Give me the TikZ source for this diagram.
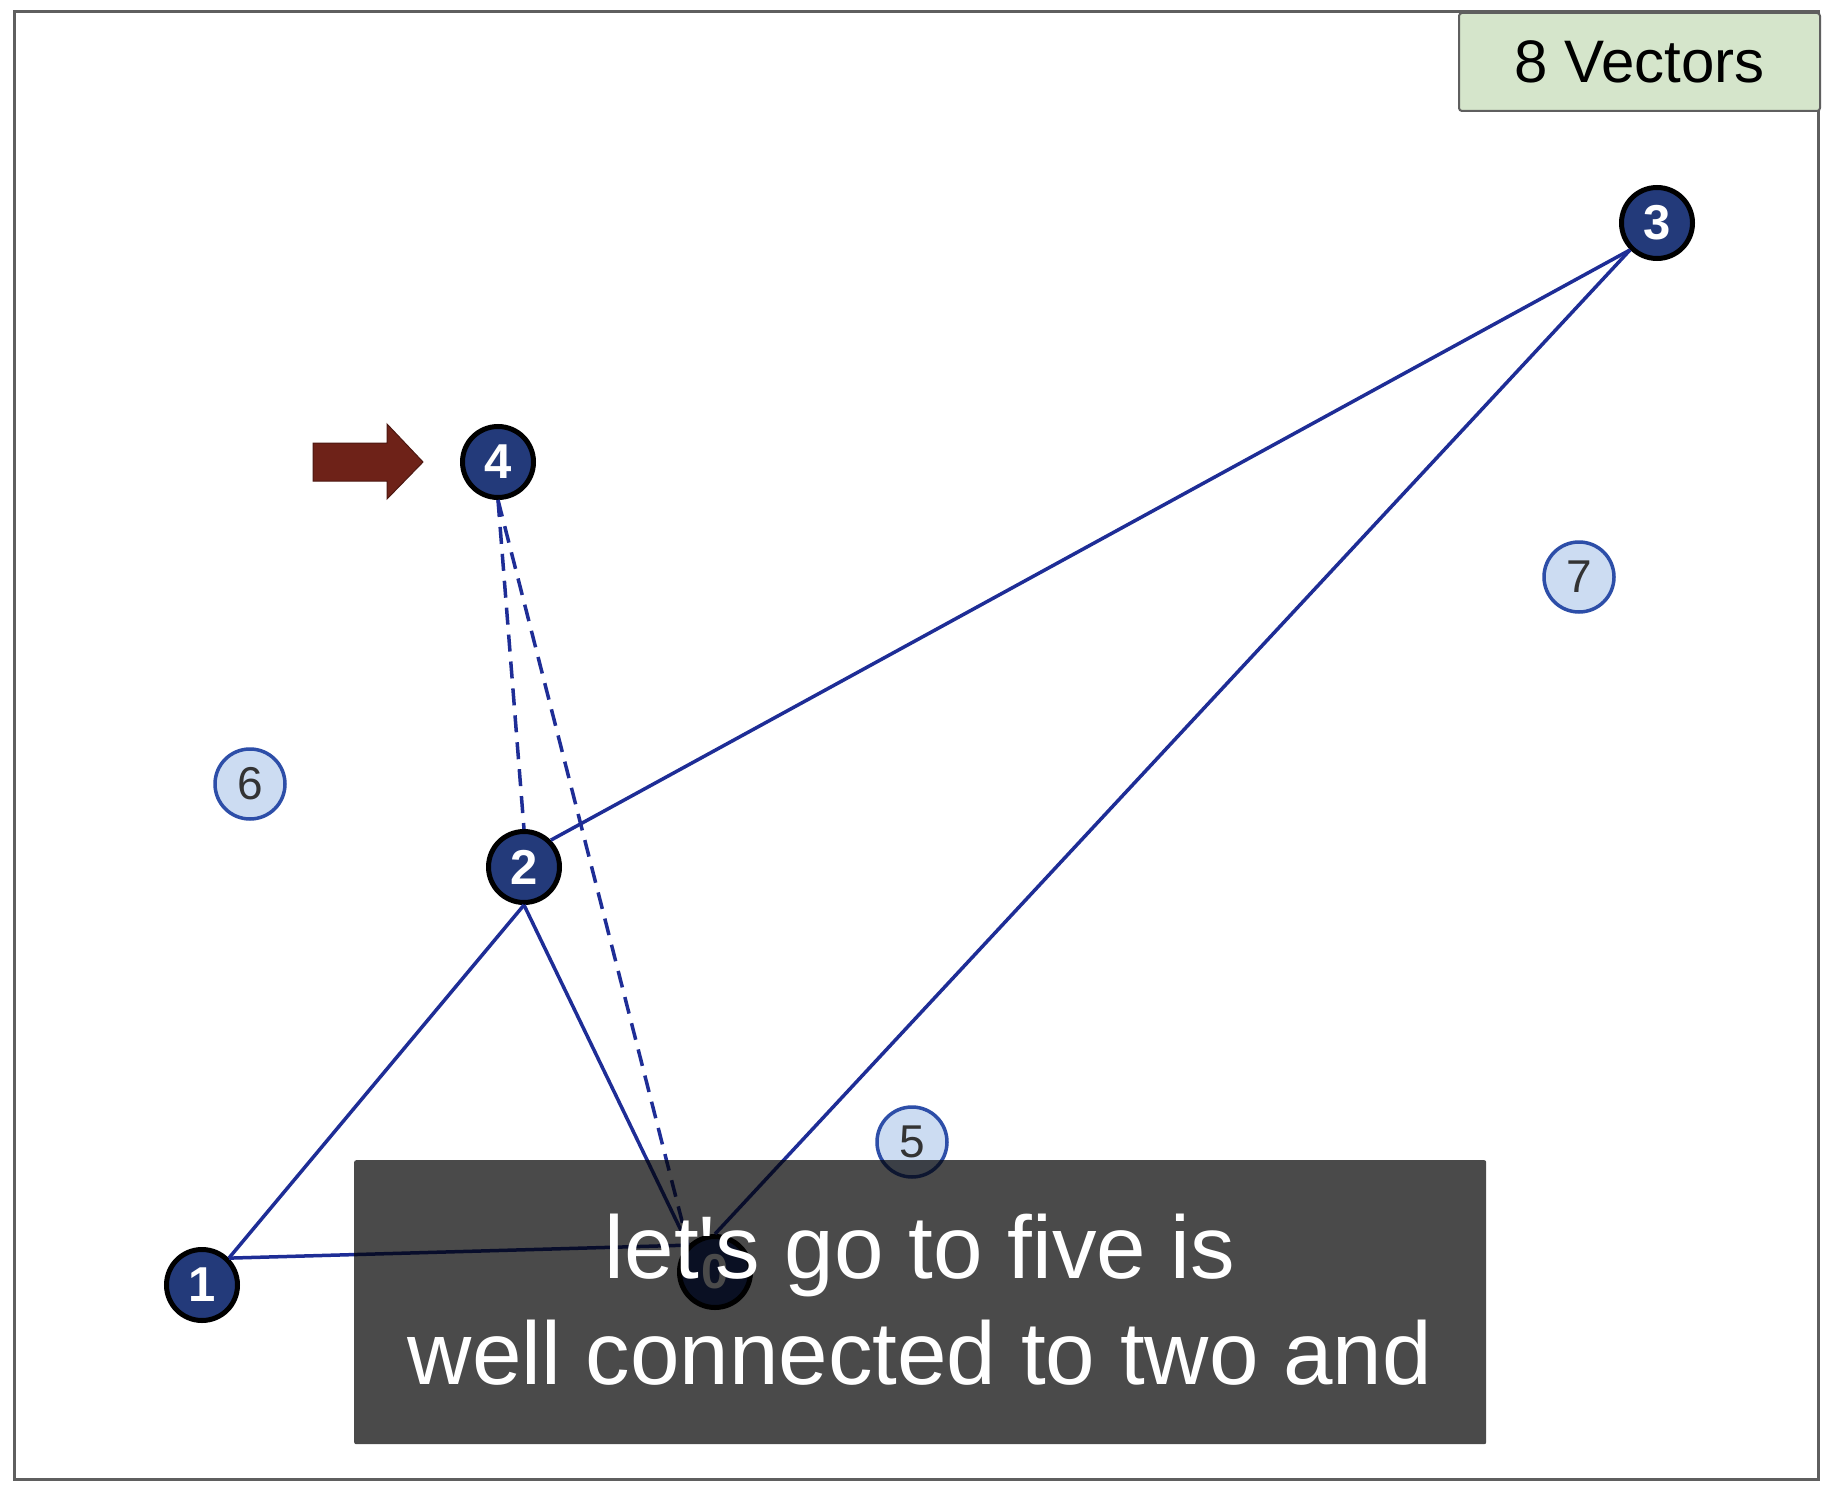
\documentclass[tikz,border=0pt]{standalone}
\usepackage{fontspec}
\usepackage{xcolor}
\setmainfont{Liberation Sans}
\usetikzlibrary{shapes}

\definecolor{vecfill}{RGB}{35,58,122}
\definecolor{linkblue}{RGB}{30,45,150}
\definecolor{freefill}{RGB}{204,220,242}
\definecolor{freeedge}{RGB}{45,78,168}
\definecolor{countfill}{RGB}{213,229,203}
\definecolor{framegray}{RGB}{95,95,95}
\definecolor{pointred}{RGB}{110,34,24}

\begin{document}
\begin{tikzpicture}[x=1pt, y=-1pt,
    vec/.style={draw=black, line width=5pt, circle, fill=vecfill, text=white, minimum size=71pt, inner sep=0pt, font=\fontsize{49}{49}\selectfont\bfseries},
    free/.style={draw=freeedge, line width=3.5pt, circle, fill=freefill, text=black!80, minimum size=70pt, inner sep=0pt, font=\fontsize{46}{46}\selectfont},
    link/.style={draw=linkblue, line width=3.5pt},
    caption/.style={text=white, anchor=base, font=\fontsize{89}{106}\selectfont}
    ]
            \useasboundingbox (0,0) rectangle (1832,1490);
            \fill[white] (0,0) rectangle (1832,1490);
            \draw[framegray, line width=3pt] (14,12) rectangle (1818,1479);
            
            \node[vec] (v0) at (715,1272) {0};
            \node[vec] (v1) at (202,1285) {1};
            \node[vec] (v2) at (524,867) {2};
            \node[vec] (v3) at (1657,223) {3};
            \node[vec] (v4) at (498,462) {4};
            
            \node[free] (v5) at (912,1142) {5};
            \node[free] (v6) at (250,784) {6};
            \node[free] (v7) at (1579,577) {7};
            
            \draw[link] (v1.north east)--(v2.south);
            \draw[link] (v1.north east)--(v0.north west);
            \draw[link] (v2.south)--(v0.north west);
            \draw[link] (v2.north east)--(v3.south west);
            \draw[link] (v3.south west)--(v0.north);
            
            \draw[link, dash pattern=on 17pt off 10pt] (v4.south)--(v2.north);
            \draw[link, dash pattern=on 17pt off 10pt] (v4.south)--(v0.north west);
            
            \fill[pointred, draw=pointred!70!black, line width=1pt] (313,443) -- (387,443) -- (387,424) -- (423,462) -- (387,499) -- (387,481) -- (313,481) -- cycle;
            
            \node[draw=framegray, line width=2pt, fill=countfill, rounded corners=3pt, minimum width=361pt, minimum height=98pt, anchor=north west, font=\fontsize{60}{60}\selectfont] (count) at (1458,12) {8 Vectors};
            
            \node[fill=black, fill opacity=0.71, rounded corners=2pt, minimum width=1132pt, minimum height=284pt, anchor=north west, inner sep=0pt] (subtitle) at (354,1160) {};
            \node[caption] (line1) at (920,1278) {let\textquotesingle s go to five is};
            \node[caption] (line2) at (920,1384) {well connected to two and};
            \end{tikzpicture}
\end{document}
